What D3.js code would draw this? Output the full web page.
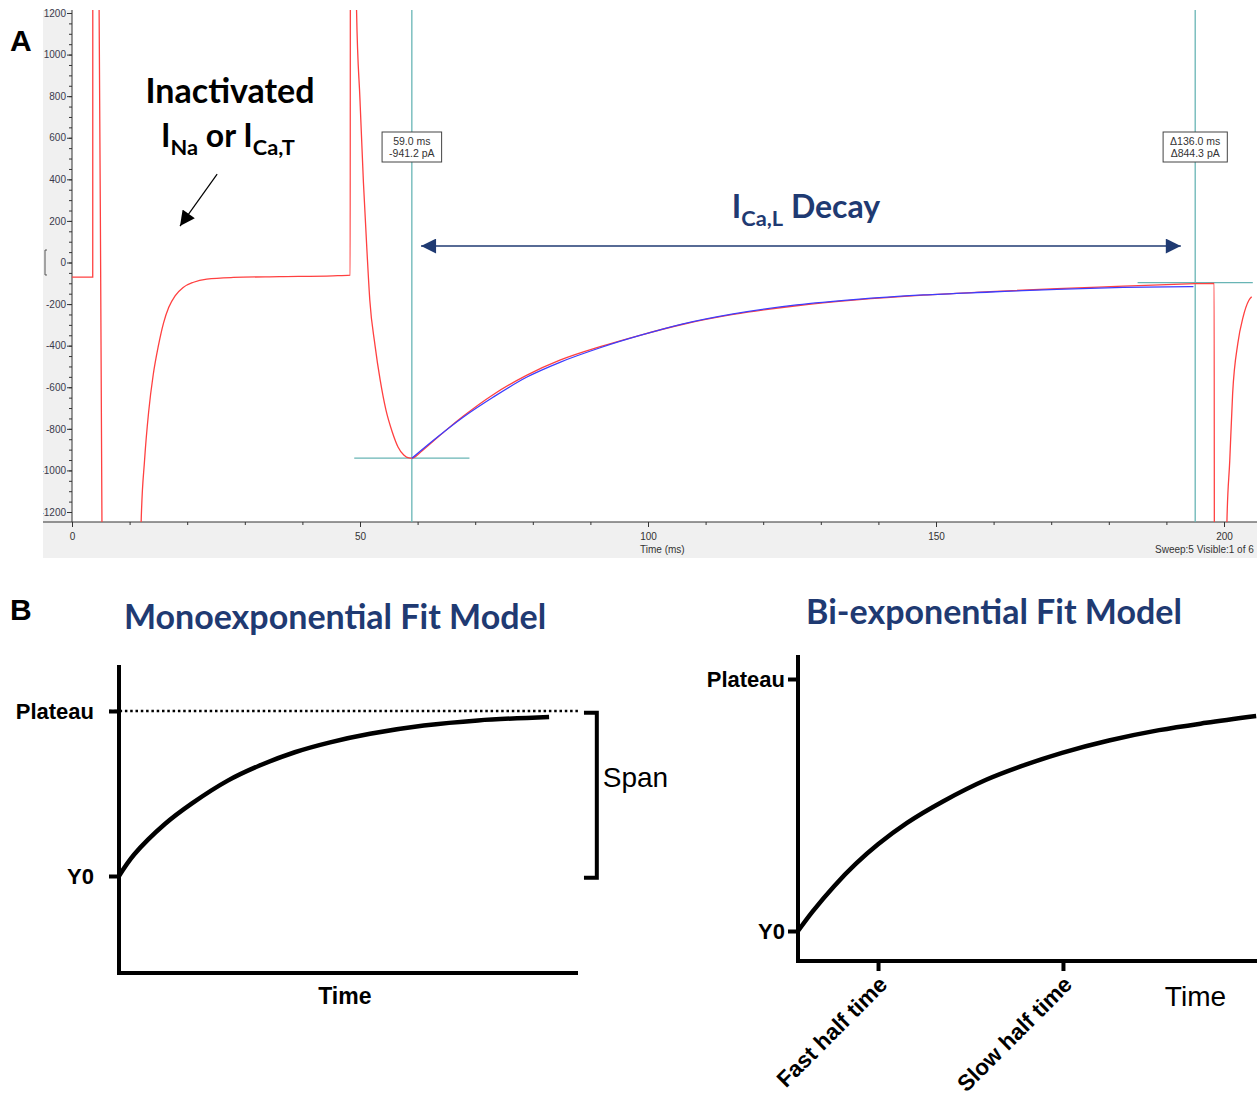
<!DOCTYPE html>
<html>
<head>
<meta charset="utf-8">
<script src="https://cdn.jsdelivr.net/npm/d3@7"></script>
<style>
  body { margin: 0; background: #fff; }
  svg { display: block; }
</style>
</head>
<body>
<svg id="figure" width="1257" height="1095"></svg>
<script>
// panel A: recorded current trace (ms, pA), off-scale parts pushed to +-3000
const traceTime = [0, 3.6, 3.62, 4.5, 4.7, 5.2, 5.25, 11.9, 12.0, 12.6, 13.3, 14.1, 15.0, 15.9, 16.8, 17.9, 19.3, 21.1, 23.4, 28.0, 36.0,
  45.3, 48.3, 48.35, 49.2, 49.4, 50.0, 50.6, 51.2, 51.7, 52.6, 53.5, 54.5, 55.6, 56.6, 57.6, 58.5, 59.0, 60.8, 62.7, 65.0,
  67.9, 73.1, 78.9, 84.7, 91.7, 98.6, 106.1, 114.8, 125.8, 136.2, 147.8, 159.4, 171.0, 182.5, 190.0, 195.0, 198.3, 198.35, 200.4, 200.5,
  201.0, 201.5, 202.4, 203.3, 204.3, 204.8];
const traceCurrent = [-70, -70, 3000, 3000, 1250, -1250, -3000, -3000, -1253, -950, -720, -540, -400, -290, -215, -160, -120, -95, -80, -72, -68,
  -64, -61, 3000, 3000, 1214, 781, 382, 60, -180, -397, -565, -709, -815, -887, -926, -940, -941, -905, -860, -805,
  -740, -636, -543, -470, -405, -350, -297, -250, -208, -180, -157, -140, -126, -114, -106, -102, -100, -3000, -3000, -1256,
  -953, -630, -389, -264, -183, -165];

// monoexponential fit of the I_Ca,L decay
const fitTime = [59.0, 62.7, 67.9, 73.1, 78.9, 84.7, 91.7, 98.6, 106.1, 114.8, 125.8, 136.2, 147.8, 159.4, 171.0, 182.5, 194.7];
const fitCurrent = [-941.2, -856, -744, -648, -552, -480, -410, -351, -295, -247, -204, -177, -156, -142, -129, -120, -116];

const yTicks = [-1200, -1000, -800, -600, -400, -200, 0, 200, 400, 600, 800, 1000, 1200];
const xTicks = [0, 50, 100, 150, 200];

// cursors
const cursorTime = [59.0, 195.0];
const cursorCurrent = [-941.2, -96.9];
const cursorSpan = [[49, 69], [185, 205]];
const cursorText = [['59.0 ms', '-941.2 pA'], ['\u0394136.0 ms', '\u0394844.3 pA']];

// panel B: schematic fits (arbitrary time, fraction of span)
const monoTime = [0, 3.3, 10.0, 15.9, 23.7, 30.5, 38.3, 46.0, 54.7, 66.4, 78.2, 93.7];
const monoValue = [0, 0.13, 0.315, 0.44, 0.578, 0.668, 0.75, 0.81, 0.862, 0.912, 0.943, 0.964];
const biTime = [0, 3.2, 7.8, 12.6, 17.4, 23.7, 31.5, 40.9, 48.7, 57.4, 67.6, 78.5, 88.7, 99.6];
const biValue = [0, 0.078, 0.177, 0.267, 0.344, 0.429, 0.514, 0.600, 0.655, 0.707, 0.756, 0.797, 0.826, 0.853];
const levelTicks = [0, 1];
const levelLabels = ['Y0', 'Plateau'];
const halfTimes = [17.4, 57.6];
const halfTimeLabels = ['Fast half time', 'Slow half time'];

const svg = d3.select('#figure');
const navy = '#1f3a72';
const arial = '"Liberation Sans", Arial, sans-serif';
const lato = 'Lato, "Open Sans", sans-serif';

const defs = svg.append('defs');
const marker = (id, color) => {
  defs.append('marker')
    .attr('id', id)
    .attr('viewBox', '0 0 10 10')
    .attr('refX', 10)
    .attr('refY', 5)
    .attr('markerUnits', 'userSpaceOnUse')
    .attr('markerWidth', 16)
    .attr('markerHeight', 15)
    .attr('orient', 'auto-start-reverse')
    .append('path')
    .attr('d', 'M0,0L10,5L0,10z')
    .attr('fill', color);
};
marker('headBlack', '#000');
marker('headNavy', navy);

// ---------- panel A
const x = d3.scaleLinear().domain([0, 200]).range([72, 1224]);
const y = d3.scaleLinear().domain([-1200, 1200]).range([512, 13]);
const plot = {left: 72, right: 1257, top: 10, bottom: 522};

svg.append('rect')
  .attr('x', 43).attr('y', plot.top)
  .attr('width', 1257 - 43).attr('height', 558 - plot.top)
  .attr('fill', '#f0f0f0');
svg.append('rect')
  .attr('x', plot.left).attr('y', plot.top)
  .attr('width', plot.right - plot.left).attr('height', plot.bottom - plot.top)
  .attr('fill', '#fff');

defs.append('clipPath').attr('id', 'clipPlot')
  .append('rect')
  .attr('x', plot.left).attr('y', plot.top)
  .attr('width', plot.right - plot.left).attr('height', plot.bottom - plot.top);
defs.append('clipPath').attr('id', 'clipLeft')
  .append('rect')
  .attr('x', 43).attr('y', 0)
  .attr('width', 40).attr('height', 540);

// y axis (labels clipped at the panel edge, as in the screenshot)
const yClip = svg.append('g').attr('clip-path', 'url(#clipLeft)');
const yAxisG = yClip.append('g').attr('transform', `translate(${plot.left},0)`);
yAxisG.append('g')
  .call(d3.axisLeft(y).tickValues(d3.range(-1200, 1201, 50)).tickSize(3).tickFormat(''));
yAxisG.append('g')
  .call(d3.axisLeft(y).tickValues(yTicks).tickSize(5).tickPadding(1).tickFormat(d => String(d)));
yAxisG.selectAll('.domain').remove();
yAxisG.selectAll('.tick line').attr('stroke', '#333');
yAxisG.selectAll('.tick text')
  .style('font-family', arial)
  .style('font-size', '10px')
  .attr('fill', '#3a3a4c');
yAxisG.append('line')
  .attr('y1', plot.top).attr('y2', plot.bottom)
  .attr('stroke', '#333');
// small scale-bar bracket near zero
svg.append('path')
  .attr('d', `M47,${y(60)}H45V${y(-60)}H47`)
  .attr('fill', 'none')
  .attr('stroke', '#555');

// x axis
const xAxisG = svg.append('g').attr('transform', `translate(0,${plot.bottom})`);
xAxisG.append('g')
  .call(d3.axisBottom(x).tickValues(d3.range(0, 201, 10)).tickSize(3).tickFormat(''));
xAxisG.append('g')
  .call(d3.axisBottom(x).tickValues(xTicks).tickSize(5).tickPadding(6).tickFormat(d => String(d)));
xAxisG.selectAll('.domain').remove();
xAxisG.selectAll('.tick line').attr('stroke', '#333');
xAxisG.selectAll('.tick text')
  .style('font-family', arial)
  .style('font-size', '10px')
  .attr('fill', '#333');
xAxisG.append('line')
  .attr('x1', 43).attr('x2', 1257)
  .attr('stroke', '#333');
svg.append('text')
  .attr('x', x(102.5)).attr('y', 553)
  .attr('text-anchor', 'middle')
  .style('font-family', arial).style('font-size', '10px')
  .attr('fill', '#333')
  .text('Time (ms)');
svg.append('text')
  .attr('x', 1155).attr('y', 553)
  .style('font-family', arial).style('font-size', '10px')
  .attr('fill', '#333')
  .text('Sweep:5 Visible:1 of 6');

// traces
const plotG = svg.append('g').attr('clip-path', 'url(#clipPlot)');
const line = d3.line()
  .x(d => x(d[0]))
  .y(d => y(d[1]))
  .curve(d3.curveMonotoneX);

// cursors under the traces
cursorTime.forEach((t, i) => {
  plotG.append('line')
    .attr('x1', x(t)).attr('x2', x(t))
    .attr('y1', plot.top).attr('y2', plot.bottom)
    .attr('stroke', '#68b5b5').attr('stroke-width', 1.3);
  plotG.append('line')
    .attr('x1', x(cursorSpan[i][0])).attr('x2', x(cursorSpan[i][1]))
    .attr('y1', y(cursorCurrent[i])).attr('y2', y(cursorCurrent[i]))
    .attr('stroke', '#68b5b5').attr('stroke-width', 1.3);
});

plotG.append('path')
  .datum(d3.zip(traceTime, traceCurrent))
  .attr('d', line)
  .attr('fill', 'none')
  .attr('stroke', '#ff4040')
  .attr('stroke-width', 1.3);
plotG.append('path')
  .datum(d3.zip(fitTime, fitCurrent))
  .attr('d', line)
  .attr('fill', 'none')
  .attr('stroke', '#3d3dff')
  .attr('stroke-width', 1.3);

// cursor readouts
cursorTime.forEach((t, i) => {
  const g = svg.append('g').attr('transform', `translate(${x(t)},132)`);
  const box = g.append('rect').attr('y', 0).attr('height', 30)
    .attr('fill', '#fff').attr('stroke', '#444');
  const texts = g.selectAll('text')
    .data(cursorText[i])
    .join('text')
    .attr('y', (d, j) => 13 + j * 12)
    .attr('text-anchor', 'middle')
    .style('font-family', arial).style('font-size', '10.5px')
    .attr('fill', '#333')
    .text(d => d);
  const w = d3.max(texts.nodes(), n => n.getComputedTextLength()) + 14;
  box.attr('x', -w / 2).attr('width', w);
});

// annotations
svg.append('text')
  .attr('x', 10).attr('y', 51)
  .style('font-family', arial).style('font-weight', 'bold').style('font-size', '30px')
  .text('A');
svg.append('text')
  .attr('x', 230).attr('y', 103)
  .attr('text-anchor', 'middle')
  .style('font-family', lato).style('font-weight', 'bold').style('font-size', '34px')
  .text('Inactivated');
const sub = (sel, parts, size) => {
  parts.forEach(p => {
    sel.append('tspan')
      .attr('dy', p.sub ? 8 : (p.back ? -8 : 0))
      .style('font-size', p.sub ? (size * 0.68) + 'px' : size + 'px')
      .text(p.text);
  });
};
const ina = svg.append('text')
  .attr('x', 228).attr('y', 147)
  .attr('text-anchor', 'middle')
  .style('font-family', lato).style('font-weight', 'bold');
sub(ina, [{text: 'I'}, {text: 'Na', sub: true}, {text: ' or I', back: true}, {text: 'Ca,T', sub: true}], 32);

svg.append('line')
  .attr('x1', x(25.2)).attr('y1', y(425))
  .attr('x2', x(18.75)).attr('y2', y(175))
  .attr('stroke', '#000').attr('stroke-width', 1.2)
  .attr('marker-end', 'url(#headBlack)');

const ical = svg.append('text')
  .attr('x', 806).attr('y', 218)
  .attr('text-anchor', 'middle')
  .attr('fill', navy)
  .style('font-family', lato).style('font-weight', 'bold');
sub(ical, [{text: 'I'}, {text: 'Ca,L', sub: true}, {text: ' Decay', back: true}], 32);

svg.append('line')
  .attr('x1', x(60.6)).attr('y1', y(79))
  .attr('x2', x(192.5)).attr('y2', y(79))
  .attr('stroke', navy).attr('stroke-width', 1.5)
  .attr('marker-start', 'url(#headNavy)')
  .attr('marker-end', 'url(#headNavy)');

// ---------- panel B
svg.append('text')
  .attr('x', 10).attr('y', 620)
  .style('font-family', arial).style('font-weight', 'bold').style('font-size', '30px')
  .text('B');
svg.append('text')
  .attr('x', 335).attr('y', 629)
  .attr('text-anchor', 'middle')
  .attr('fill', navy)
  .style('font-family', lato).style('font-weight', 'bold').style('font-size', '34px')
  .text('Monoexponential Fit Model');
svg.append('text')
  .attr('x', 994).attr('y', 624)
  .attr('text-anchor', 'middle')
  .attr('fill', navy)
  .style('font-family', lato).style('font-weight', 'bold').style('font-size', '34px')
  .text('Bi-exponential Fit Model');

const curve = (sx, sy) => d3.line()
  .x(d => sx(d[0]))
  .y(d => sy(d[1]))
  .curve(d3.curveCatmullRom);

const levelAxis = (g, sy, padding) => {
  g.call(d3.axisLeft(sy)
    .tickValues(levelTicks)
    .tickFormat((d, i) => levelLabels[i])
    .tickSize(10)
    .tickPadding(padding));
  g.select('.domain').remove();
  g.selectAll('.tick line').attr('stroke', '#000').attr('stroke-width', 4);
  g.selectAll('.tick text')
    .attr('fill', '#000')
    .style('font-family', arial).style('font-weight', 'bold').style('font-size', '22px');
};

// monoexponential
const xm = d3.scaleLinear().domain([0, 100]).range([119, 578]);
const ym = d3.scaleLinear().domain([0, 1]).range([876, 711]);
const mono = svg.append('g');
mono.append('line')
  .attr('x1', xm(0) - 10).attr('x2', xm(100))
  .attr('y1', ym(1)).attr('y2', ym(1))
  .attr('stroke', '#000').attr('stroke-width', 2.5)
  .attr('stroke-dasharray', '2.5,2.8');
mono.append('g').attr('transform', `translate(${xm(0)},0)`).call(levelAxis, ym, 15);
mono.append('path')
  .attr('d', `M${xm(0)},${ym(1.279)}V${ym(-0.588)}H${xm(100)}`)
  .attr('fill', 'none').attr('stroke', '#000').attr('stroke-width', 4);
mono.append('path')
  .datum(d3.zip(monoTime, monoValue))
  .attr('d', curve(xm, ym))
  .attr('fill', 'none').attr('stroke', '#000').attr('stroke-width', 4.5);
mono.append('path')
  .attr('d', `M${xm(101.3)},${ym(0.99)}H${xm(104.1)}V${ym(-0.01)}H${xm(101.3)}`)
  .attr('fill', 'none').attr('stroke', '#000').attr('stroke-width', 4);
mono.append('text')
  .attr('x', xm(105.4)).attr('y', 787)
  .style('font-family', arial).style('font-size', '28px')
  .text('Span');
mono.append('text')
  .attr('x', xm(49.2)).attr('y', 1004)
  .attr('text-anchor', 'middle')
  .style('font-family', arial).style('font-weight', 'bold').style('font-size', '23px')
  .text('Time');

// bi-exponential
const xb = d3.scaleLinear().domain([0, 100]).range([798, 1258]);
const yb = d3.scaleLinear().domain([0, 1]).range([931, 679]);
const bi = svg.append('g');
bi.append('g').attr('transform', `translate(${xb(0)},0)`).call(levelAxis, yb, 3);
const halfAxis = bi.append('g').attr('transform', `translate(0,${yb(-0.119)})`)
  .call(d3.axisBottom(xb)
    .tickValues(halfTimes)
    .tickFormat((d, i) => halfTimeLabels[i])
    .tickSize(10));
halfAxis.select('.domain').remove();
halfAxis.selectAll('.tick line').attr('stroke', '#000').attr('stroke-width', 4);
halfAxis.selectAll('.tick text')
  .attr('x', 0).attr('y', 0).attr('dy', 0)
  .attr('transform', 'translate(10,25) rotate(-45)')
  .style('text-anchor', 'end')
  .attr('fill', '#000')
  .style('font-family', arial).style('font-weight', 'bold').style('font-size', '22.5px');
bi.append('path')
  .attr('d', `M${xb(0)},${yb(1.095)}V${yb(-0.119)}H${xb(100)}`)
  .attr('fill', 'none').attr('stroke', '#000').attr('stroke-width', 4);
bi.append('path')
  .datum(d3.zip(biTime, biValue))
  .attr('d', curve(xb, yb))
  .attr('fill', 'none').attr('stroke', '#000').attr('stroke-width', 4.5);
bi.append('text')
  .attr('x', xb(86.4)).attr('y', 1006)
  .attr('text-anchor', 'middle')
  .style('font-family', arial).style('font-size', '28px')
  .text('Time');
</script>
</body>
</html>
